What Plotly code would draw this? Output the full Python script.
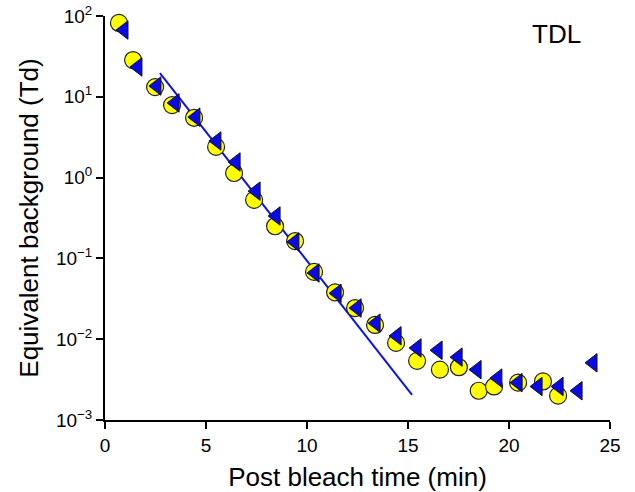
import plotly.graph_objects as go

circ_x = [0.69, 1.39, 2.48, 3.32, 4.41, 5.5, 6.39, 7.38, 8.42, 9.41, 10.35, 11.39, 12.38, 13.37,
          14.41, 15.45, 16.58, 17.52, 18.5, 19.26, 20.45, 21.68, 22.43]
circ_y = [82, 28.5, 13.2, 7.9, 5.5, 2.4, 1.14, 0.53, 0.25, 0.164, 0.068, 0.038, 0.0243, 0.015,
          0.009, 0.0054, 0.0042, 0.0045, 0.0023, 0.0026, 0.0029, 0.0030, 0.0020]

tri_x = [0.94, 1.63, 2.57, 3.47, 4.5, 5.54, 6.49, 7.48, 8.47, 9.4, 10.4, 11.49, 12.48, 13.42,
         14.46, 15.45, 16.49, 17.48, 18.42, 19.45, 20.45, 21.44, 22.48, 23.42, 24.16]
tri_y = [67, 23.4, 13.6, 8.4, 5.6, 2.84, 1.56, 0.68, 0.335, 0.16, 0.066, 0.037, 0.0243, 0.0158,
         0.011, 0.0078, 0.0073, 0.0060, 0.0042, 0.0033, 0.0029, 0.0026, 0.0026, 0.0023, 0.0051]

fit_x = [2.72, 15.2]
fit_y = [19.7, 0.00204]

y_tickvals = [1e-3, 1e-2, 1e-1, 1, 10, 100]
y_ticktext = ["10<sup>−3</sup>", "10<sup>−2</sup>", "10<sup>−1</sup>", "10<sup>0</sup>",
              "10<sup>1</sup>", "10<sup>2</sup>"]
x_tickvals = [0, 5, 10, 15, 20, 25]

FONT = "Liberation Sans, Arial, sans-serif"

fig = go.Figure()
fig.add_trace(go.Scatter(x=fit_x, y=fit_y, mode="lines",
                         line=dict(color="#0a14e6", width=2), showlegend=False))
fig.add_trace(go.Scatter(x=circ_x, y=circ_y, mode="markers",
                         marker=dict(symbol="circle", size=17, color="#ffff00",
                                     line=dict(color="#222222", width=1.2)),
                         showlegend=False, cliponaxis=False))
fig.add_trace(go.Scatter(x=tri_x, y=tri_y, mode="markers",
                         marker=dict(symbol="triangle-left", size=16, color="#0a0ae6",
                                     line=dict(color="#111111", width=1)),
                         showlegend=False, cliponaxis=False))

fig.update_layout(
    width=635, height=492,
    margin=dict(l=105, r=25, t=16, b=72),
    paper_bgcolor="white", plot_bgcolor="white",
    font=dict(family=FONT, color="black"),
    annotations=[dict(text="TDL", x=0.894, y=0.955, xref="paper", yref="paper",
                      xanchor="center", yanchor="middle",
                      showarrow=False, font=dict(size=26, family=FONT))],
)
fig.update_xaxes(range=[0, 25], tickvals=x_tickvals, showgrid=False, zeroline=False,
                 showline=True, linecolor="black", linewidth=2, automargin=False,
                 ticks="outside", ticklen=7, tickwidth=2, tickcolor="black",
                 tickfont=dict(size=19),
                 title=dict(text="Post bleach time (min)", font=dict(size=26), standoff=15))
fig.update_yaxes(type="log", range=[-3, 2], tickvals=y_tickvals, ticktext=y_ticktext,
                 showgrid=False, zeroline=False, automargin=False,
                 showline=True, linecolor="black", linewidth=2,
                 ticks="outside", ticklen=7, tickwidth=2, tickcolor="black",
                 tickfont=dict(size=19),
                 title=dict(text="Equivalent background (Td)", font=dict(size=26), standoff=10))

fig.write_html("out.html")
